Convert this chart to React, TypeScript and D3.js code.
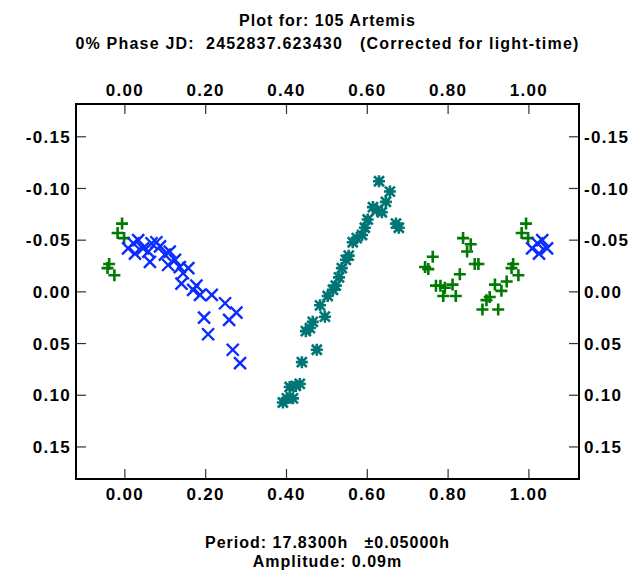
import React from "react";
import * as d3 from "d3";

// [phase, magnitude]
const greenSeries: [number, number][] = [
  [0.762, -0.034], [0.743, -0.024], [0.751, -0.022], [0.829, -0.017],
  [0.837, -0.052], [0.856, -0.046], [0.847, -0.039], [0.866, -0.027],
  [0.875, -0.027], [0.770, -0.006], [0.781, -0.006], [0.792, -0.004],
  [0.811, -0.007], [0.788, 0.004], [0.819, 0.004], [0.993, -0.066],
  [0.982, -0.057], [0.998, -0.052], [0.961, -0.027], [0.957, -0.023],
  [0.974, -0.016], [0.945, -0.010], [0.916, -0.007], [0.932, -0.001],
  [0.903, 0.005], [0.895, 0.008], [0.885, 0.017], [0.924, 0.017],
];

const blueSeries: [number, number][] = [
  [0.008, -0.042], [0.021, -0.047], [0.033, -0.050], [0.025, -0.037],
  [0.045, -0.042], [0.058, -0.039], [0.066, -0.047], [0.078, -0.048],
  [0.087, -0.044], [0.062, -0.029], [0.099, -0.036], [0.111, -0.039],
  [0.124, -0.031], [0.107, -0.026], [0.136, -0.024], [0.144, -0.018],
  [0.140, -0.008], [0.157, -0.023], [0.177, -0.006], [0.169, -0.002],
  [0.186, 0.003], [0.215, 0.003], [0.248, 0.011], [0.276, 0.020],
  [0.258, 0.027], [0.196, 0.025], [0.206, 0.041], [0.267, 0.056],
  [0.285, 0.069],
];

const tealSeries: [number, number][] = [
  [0.391, 0.107], [0.401, 0.103], [0.416, 0.103], [0.408, 0.092],
  [0.423, 0.091], [0.433, 0.089], [0.438, 0.068], [0.475, 0.056],
  [0.448, 0.038], [0.458, 0.035], [0.465, 0.029], [0.483, 0.013],
  [0.495, 0.024], [0.502, 0.004], [0.515, -0.002], [0.522, -0.006],
  [0.530, -0.014], [0.537, -0.023], [0.547, -0.031], [0.554, -0.035],
  [0.564, -0.048], [0.574, -0.052], [0.587, -0.055], [0.594, -0.062],
  [0.601, -0.070], [0.614, -0.082], [0.624, -0.079], [0.636, -0.077],
  [0.646, -0.087], [0.656, -0.097], [0.629, -0.107], [0.671, -0.066],
  [0.678, -0.062],
];

const xTicks = [0, 0.2, 0.4, 0.6, 0.8, 1.0];
const yTicks = [-0.15, -0.1, -0.05, 0, 0.05, 0.1, 0.15];

const titleLine1 = "Plot for: 105 Artemis";
const titleLine2 = "0% Phase JD:  2452837.623430   (Corrected for light-time)";
const footLine1 = "Period: 17.8300h   \u00b10.05000h";
const footLine2 = "Amplitude: 0.09m";

const W = 633;
const H = 570;
const left = 76, right = 579, top = 104, bottom = 479;

const x = d3.scaleLinear().domain([-0.121, 1.124]).range([left, right]);
const y = d3.scaleLinear().domain([-0.1817, 0.181]).range([top, bottom]);

const PHASE_MIN = -0.05;
const PHASE_MAX = 1.05;

function wrap(data: [number, number][]) {
  const out: [number, number][] = [];
  data.forEach(([p, m]) => {
    out.push([p, m]);
    if (p + 1 <= PHASE_MAX) out.push([p + 1, m]);
    if (p - 1 >= PHASE_MIN) out.push([p - 1, m]);
  });
  return out;
}

const font = "'Liberation Sans', Arial, sans-serif";
const fmt2 = d3.format(".2f");
const fmt = (v: number) => fmt2(v).replace("\u2212", "-");

export default function App() {
  const green = wrap(greenSeries);
  const blue = wrap(blueSeries);
  const teal = wrap(tealSeries);
  const tickStyle: React.CSSProperties = { letterSpacing: "1.3px" };
  return (
    <svg
      width={W}
      height={H}
      style={{ position: "absolute", left: 0, top: 0, background: "#fff" }}
      fontFamily={font}
      fontWeight="bold"
    >
      <rect x={0} y={0} width={W} height={H} fill="#fff" />
      <text x={(left + right) / 2} y={26} textAnchor="middle" fontSize={16} style={{ letterSpacing: "1px", whiteSpace: "pre" }}>
        {titleLine1}
      </text>
      <text x={(left + right) / 2} y={49} textAnchor="middle" fontSize={16} style={{ letterSpacing: "1.2px", whiteSpace: "pre" }}>
        {titleLine2}
      </text>

      {/* ticks */}
      {xTicks.map((t) => (
        <g key={"x" + t}>
          <line x1={x(t)} x2={x(t)} y1={top} y2={top + 10} stroke="#333" strokeWidth={1.2} />
          <line x1={x(t)} x2={x(t)} y1={bottom} y2={bottom - 10} stroke="#333" strokeWidth={1.2} />
          <text x={x(t)} y={96} textAnchor="middle" fontSize={17} style={tickStyle}>{fmt(t)}</text>
          <text x={x(t)} y={500} textAnchor="middle" fontSize={17} style={tickStyle}>{fmt(t)}</text>
        </g>
      ))}
      {yTicks.map((t) => (
        <g key={"y" + t}>
          <line x1={left} x2={left + 10} y1={y(t)} y2={y(t)} stroke="#333" strokeWidth={1.2} />
          <line x1={right} x2={right - 10} y1={y(t)} y2={y(t)} stroke="#333" strokeWidth={1.2} />
          <text x={71} y={y(t)} dy="0.36em" textAnchor="end" fontSize={17} style={tickStyle}>{fmt(t)}</text>
          <text x={584} y={y(t)} dy="0.36em" textAnchor="start" fontSize={17} style={tickStyle}>{fmt(t)}</text>
        </g>
      ))}

      {/* markers */}
      <g stroke="#007a00" strokeWidth={2.6} strokeLinecap="butt">
        {green.map(([p, m], i) => (
          <path key={"g" + i} d={`M${x(p) - 6},${y(m)}H${x(p) + 6}M${x(p)},${y(m) - 6}V${y(m) + 6}`} />
        ))}
      </g>
      <g stroke="#0a2cff" strokeWidth={2.4}>
        {blue.map(([p, m], i) => (
          <path key={"b" + i} d={`M${x(p) - 6},${y(m) - 6}L${x(p) + 6},${y(m) + 6}M${x(p) - 6},${y(m) + 6}L${x(p) + 6},${y(m) - 6}`} />
        ))}
      </g>
      <g stroke="#007575" strokeWidth={2.6}>
        {teal.map(([p, m], i) => (
          <path key={"t" + i} d={`M${x(p) - 6},${y(m)}H${x(p) + 6}M${x(p)},${y(m) - 6}V${y(m) + 6}M${x(p) - 5},${y(m) - 5}L${x(p) + 5},${y(m) + 5}M${x(p) - 5},${y(m) + 5}L${x(p) + 5},${y(m) - 5}`} />
        ))}
      </g>

      <rect x={left} y={top} width={right - left} height={bottom - top} fill="none" stroke="#000" strokeWidth={2} />

      <text x={(left + right) / 2} y={548} textAnchor="middle" fontSize={16} style={{ letterSpacing: "1px", whiteSpace: "pre" }}>
        {footLine1}
      </text>
      <text x={(left + right) / 2} y={567} textAnchor="middle" fontSize={16} style={{ letterSpacing: "1px", whiteSpace: "pre" }}>
        {footLine2}
      </text>
    </svg>
  );
}
